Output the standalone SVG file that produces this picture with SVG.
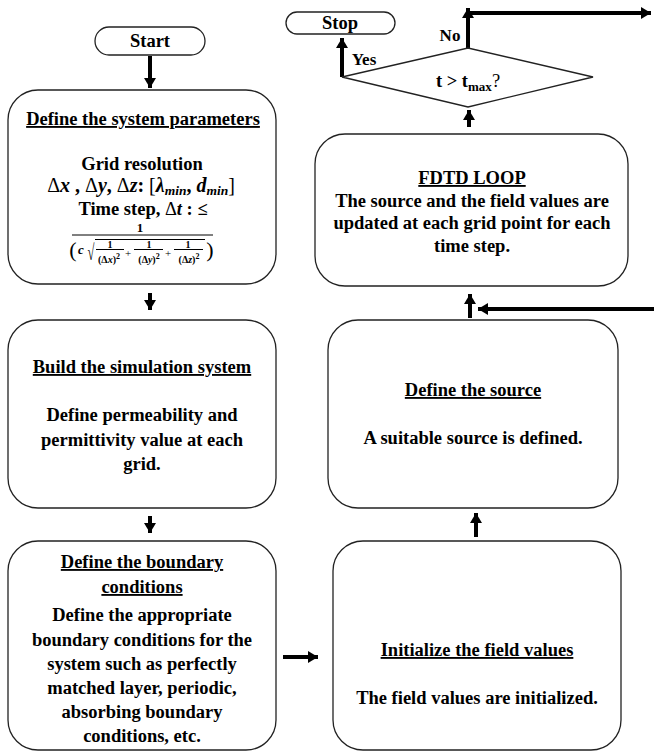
<svg xmlns="http://www.w3.org/2000/svg" width="654" height="756" viewBox="0 0 654 756">
<defs>
<style>
.box{fill:#fff;stroke:#222;stroke-width:1.3}
.t{font-family:'Liberation Serif','DejaVu Serif','Times New Roman',serif;font-weight:bold;font-size:18.5px;fill:#000;text-anchor:middle}
.u{text-decoration:underline}
.i{font-style:italic}
.m{font-size:10px}
.con{stroke:#000;stroke-width:4;fill:none}
.thin{stroke:#000;stroke-width:1;fill:none}
</style>
<marker id="ah" markerUnits="userSpaceOnUse" markerWidth="14" markerHeight="14" refX="10" refY="7" orient="auto">
<path d="M0,1 L10,7 L0,13 Z" fill="#000"/>
</marker>
</defs>
<rect width="654" height="756" fill="#fff"/>

<g id="connectors">
<line class="con" x1="150" y1="56" x2="150" y2="88" marker-end="url(#ah)"/>
<line class="con" x1="150" y1="293" x2="150" y2="310" marker-end="url(#ah)"/>
<line class="con" x1="150" y1="516" x2="150" y2="533" marker-end="url(#ah)"/>
<line class="con" x1="283" y1="657" x2="318" y2="657" marker-end="url(#ah)"/>
<line class="con" x1="476" y1="537" x2="476" y2="513" marker-end="url(#ah)"/>
<line class="con" x1="470" y1="318" x2="470" y2="294" marker-end="url(#ah)"/>
<line class="con" x1="654" y1="309" x2="478" y2="309" marker-end="url(#ah)"/>
<line class="con" x1="469" y1="127" x2="469" y2="110" marker-end="url(#ah)"/>
<line class="con" x1="342" y1="77" x2="342" y2="38" marker-end="url(#ah)"/>
<line class="con" x1="468" y1="48" x2="468" y2="8" marker-end="url(#ah)"/>
<line class="con" x1="468" y1="13" x2="651" y2="13" marker-end="url(#ah)"/>
<text class="t" x="364" y="65" style="font-size:17px">Yes</text>
<text class="t" x="450" y="41" style="font-size:17px">No</text>
</g>

<g id="start">
<rect class="box" x="95" y="27" width="110" height="28" rx="14"/>
<text class="t" x="150" y="47">Start</text>
</g>

<g id="stop">
<rect class="box" x="286" y="12" width="109" height="22" rx="11"/>
<text class="t" x="340" y="29">Stop</text>
</g>

<g id="decision">
<polygon class="box" points="342,77 468,48 593,77 468,107"/>
<text class="t" x="468" y="87">t &gt; t<tspan style="font-size:13px" dy="4">max</tspan><tspan dy="-4" style="font-weight:normal">?</tspan></text>
</g>

<g id="params">
<rect class="box" x="8" y="90" width="268" height="194" rx="30"/>
<text class="t u" x="143" y="125">Define the system parameters</text>
<text class="t" x="142" y="170">Grid resolution</text>
<text class="t" x="141" y="192" style="font-size:20px"><tspan style="font-weight:normal">Δ</tspan><tspan class="i">x</tspan> , <tspan style="font-weight:normal">Δ</tspan><tspan class="i">y</tspan>, <tspan style="font-weight:normal">Δ</tspan><tspan class="i">z</tspan>:  <tspan style="font-weight:normal">[</tspan><tspan class="i">λ</tspan><tspan class="i" style="font-size:13.5px" dy="3">min</tspan><tspan dy="-3">, </tspan><tspan class="i">d</tspan><tspan class="i" style="font-size:13.5px" dy="3">min</tspan><tspan dy="-3" style="font-weight:normal">]</tspan></text>
<text class="t" x="143" y="215">Time step, <tspan style="font-weight:normal">Δ</tspan><tspan class="i">t</tspan> : ≤</text>
<text class="t" x="140" y="232" style="font-size:13px">1</text>
<line class="thin" x1="72" y1="235" x2="213" y2="235"/>
<text class="t" x="73" y="257" style="font-size:22px;font-weight:normal">(</text>
<text class="t i" x="81" y="254" style="font-size:13px">c</text>
<text class="t" transform="translate(91,260) scale(0.7,1.25)" x="0" y="0" style="font-size:18px;font-weight:normal">√</text>
<line class="thin" x1="95" y1="239.5" x2="205" y2="239.5"/>
<text class="t m" x="110" y="248">1</text>
<line class="thin" x1="96" y1="249.5" x2="124" y2="249.5"/>
<text class="t m" x="109" y="263">(Δ<tspan class="i">x</tspan>)<tspan dy="-4" style="font-size:8px">2</tspan></text>
<text class="t" x="128" y="257" style="font-size:11px;font-weight:normal">+</text>
<text class="t m" x="149" y="248">1</text>
<line class="thin" x1="134" y1="249.5" x2="163" y2="249.5"/>
<text class="t m" x="149" y="263">(Δ<tspan class="i">y</tspan>)<tspan dy="-4" style="font-size:8px">2</tspan></text>
<text class="t" x="168" y="257" style="font-size:11px;font-weight:normal">+</text>
<text class="t m" x="188" y="248">1</text>
<line class="thin" x1="174" y1="249.5" x2="203" y2="249.5"/>
<text class="t m" x="189" y="263">(Δ<tspan class="i">z</tspan>)<tspan dy="-4" style="font-size:8px">2</tspan></text>
<text class="t" x="210" y="257" style="font-size:22px;font-weight:normal">)</text>
</g>

<g id="build">
<rect class="box" x="8" y="320" width="268" height="188" rx="30"/>
<text class="t u" x="142" y="373">Build the simulation system</text>
<text class="t" x="142" y="421">Define permeability and</text>
<text class="t" x="142" y="446">permittivity value at each</text>
<text class="t" x="142" y="470">grid.</text>
</g>

<g id="boundary">
<rect class="box" x="8" y="541" width="268" height="209" rx="30"/>
<text class="t u" x="142" y="568">Define the boundary</text>
<text class="t u" x="142" y="593">conditions</text>
<text class="t" x="142" y="621">Define the appropriate</text>
<text class="t" x="142" y="646">boundary conditions for the</text>
<text class="t" x="142" y="670">system such as perfectly</text>
<text class="t" x="142" y="694">matched layer, periodic,</text>
<text class="t" x="142" y="718">absorbing boundary</text>
<text class="t" x="142" y="742">conditions, etc.</text>
</g>

<g id="init">
<rect class="box" x="333" y="541" width="288" height="209" rx="30"/>
<text class="t u" x="477" y="656">Initialize the field values</text>
<text class="t" x="477" y="704">The field values are initialized.</text>
</g>

<g id="source">
<rect class="box" x="328" y="320" width="290" height="188" rx="30"/>
<text class="t u" x="473" y="396">Define the source</text>
<text class="t" x="473" y="444">A suitable source is defined.</text>
</g>

<g id="fdtd">
<rect class="box" x="315" y="134" width="313" height="152" rx="30"/>
<text class="t u" x="472" y="184">FDTD LOOP</text>
<text class="t" x="472" y="207">The source and the field values are</text>
<text class="t" x="472" y="229">updated at each grid point for each</text>
<text class="t" x="472" y="252">time step.</text>
</g>
</svg>
